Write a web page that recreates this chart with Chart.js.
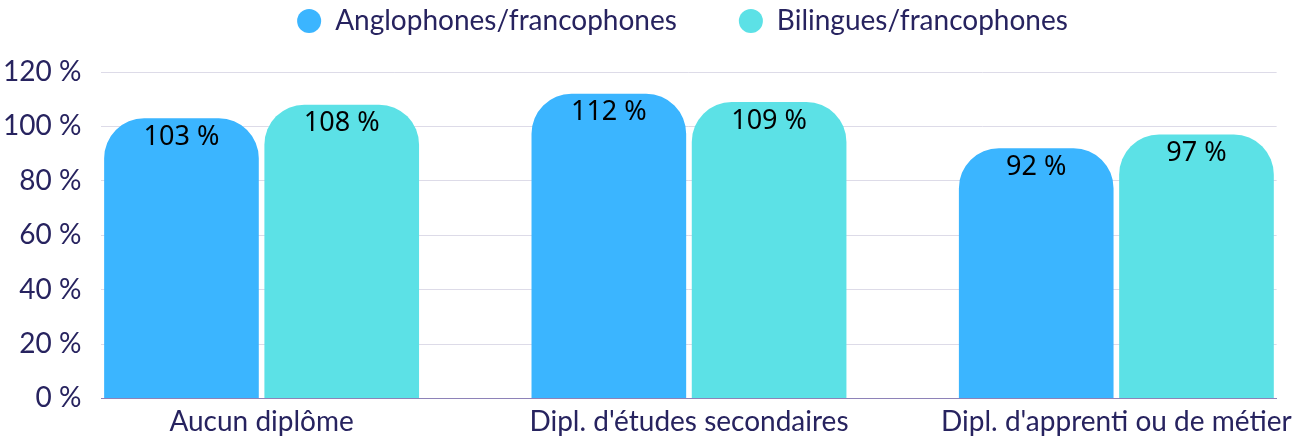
<!DOCTYPE html>
<html>
<head>
<meta charset="utf-8">
<script src="https://cdn.jsdelivr.net/npm/chart.js@4"></script>
<style>
  html, body { margin: 0; padding: 0; background: #fff; }
  #wrap { width: 1300px; height: 439px; }
</style>
</head>
<body>
<div id="wrap"><canvas id="chart"></canvas></div>
<script>
// ===== 数据 =====
const categories = ["Aucun diplôme", "Dipl. d'études secondaires", "Dipl. d'apprenti ou de métier"];
const seriesNames = ['Anglophones/francophones', 'Bilingues/francophones'];
const anglo = [103, 112, 92];
const bilingue = [108, 109, 97];
const yTicks = [0, 20, 40, 60, 80, 100, 120];

const NAVY = '#27235f';
const BLUE = '#3bb5ff';
const TEAL = '#5ce1e6';
const LEGEND_GAP = 62;   // 图例项之间的间距

// 柱内数值标签
const valueLabels = {
  id: 'valueLabels',
  afterDatasetsDraw(chart) {
    const ctx = chart.ctx;
    ctx.save();
    ctx.font = '27px "Noto Sans"';
    ctx.fillStyle = '#000';
    ctx.textAlign = 'center';
    ctx.textBaseline = 'middle';
    chart.data.datasets.forEach((ds, i) => {
      chart.getDatasetMeta(i).data.forEach((el, j) => {
        ctx.fillText(ds.data[j].y + ' %', el.x, el.y + 19);
      });
    });
    ctx.restore();
  }
};

// 图例位置微调：横向间距大，但不要占那么多高度
const legendShift = {
  id: 'legendShift',
  afterLayout(chart) {
    const lg = chart.legend;
    if (!lg) return;
    lg.top = 7 - LEGEND_GAP;
    lg.left += 46;
    lg.right += 46;
  }
};

function toPoints(arr) { return arr.map((v, i) => ({ x: i, y: v })); }

const barStyle = {
  borderRadius: { topLeft: 40, topRight: 40, bottomLeft: 0, bottomRight: 0 },
  borderSkipped: false,
  categoryPercentage: 0.75,
  barPercentage: 0.965
};

new Chart(document.getElementById('chart'), {
  type: 'bar',
  data: {
    datasets: [
      { label: seriesNames[0], data: toPoints(anglo), backgroundColor: BLUE, ...barStyle },
      { label: seriesNames[1], data: toPoints(bilingue), backgroundColor: TEAL, ...barStyle }
    ]
  },
  options: {
    responsive: true,
    maintainAspectRatio: false,
    animation: false,
    layout: { padding: { left: -17, right: 10, top: 0, bottom: -7 } },
    plugins: {
      tooltip: { enabled: false },
      legend: {
        position: 'top',
        maxHeight: 72,
        labels: {
          usePointStyle: true,
          pointStyle: 'circle',
          boxWidth: 24,
          boxHeight: 17,
          padding: LEGEND_GAP,
          color: NAVY,
          font: { family: 'Lato', size: 28 }
        }
      }
    },
    scales: {
      x: {
        type: 'linear',
        min: -0.375,
        max: 2.375,
        offset: false,
        afterBuildTicks: (scale) => { scale.ticks = categories.map((c, i) => ({ value: i })); },
        ticks: {
          color: NAVY,
          font: { family: 'Lato', size: 28 },
          padding: 7,
          maxRotation: 0,
          autoSkip: false,
          callback: (v) => categories[v]
        },
        grid: { display: false, drawTicks: false },
        border: { display: true, color: '#8e82b8', width: 1 }
      },
      y: {
        min: 0,
        max: 120,
        afterBuildTicks: (scale) => { scale.ticks = yTicks.map(v => ({ value: v })); },
        ticks: {
          color: NAVY,
          font: { family: 'Lato', size: 28 },
          padding: 20,
          callback: (v) => v + ' %'
        },
        grid: { color: '#dddbe8', drawTicks: false },
        border: { display: false }
      }
    }
  },
  plugins: [valueLabels, legendShift]
});
</script>
</body>
</html>
